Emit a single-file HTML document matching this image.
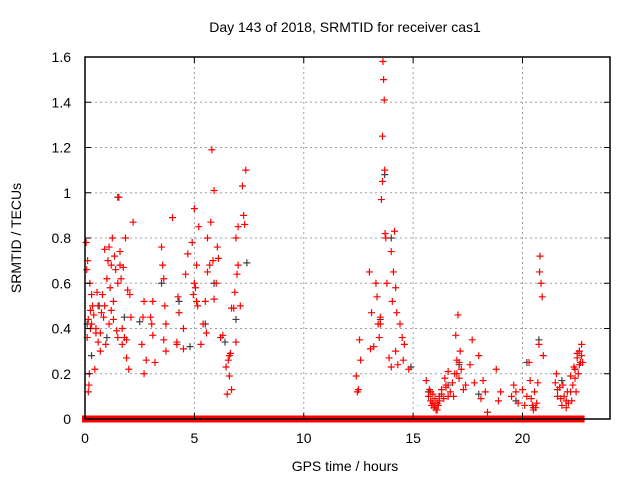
<!DOCTYPE html>
<html><head><meta charset="utf-8"><style>
html,body{margin:0;padding:0;background:#fff}
svg{display:block;font-family:"Liberation Sans",sans-serif}
</style></head><body>
<svg id="chart" width="640" height="480" viewBox="0 0 640 480" xmlns="http://www.w3.org/2000/svg">
<rect width="640" height="480" fill="#fff"/>
<text x="345" y="32" text-anchor="middle" font-size="14" fill="#000">Day 143 of 2018, SRMTID for receiver cas1</text>
<text transform="translate(21,238) rotate(-90)" text-anchor="middle" font-size="14" fill="#000">SRMTID / TECUs</text>
<text x="345" y="471" text-anchor="middle" font-size="14" fill="#000">GPS time / hours</text>
<g id="grid"></g>
<g id="zeros"></g>
<g id="black"></g>
<g id="red"></g>
<rect x="85" y="57" width="525" height="362" fill="none" stroke="#000" stroke-width="1.5"/>
<g id="ticks"></g>
</svg>
<script>
const xTicks=[0,5,10,15,20];
const yTicks=[0,0.2,0.4,0.6,0.8,1,1.2,1.4,1.6];
const yTickLabels=["0","0.2","0.4","0.6","0.8","1","1.2","1.4","1.6"];
const zeroSegments=[[0,1.5],[1.6,3.6],[3.7,5.2],[5.3,7.3],[7.35,12.8],[12.9,13.5],[13.6,14.5],[14.55,15.6],[15.7,16.2],[16.3,20.6],[20.7,22.7]];
const redX=[
0.05,0.08,0.1,0.12,0.15,0.18,0.2,0.22,0.25,0.3,
0.35,0.4,0.45,0.5,0.55,0.6,0.65,0.7,0.75,0.8,
0.85,0.9,0.95,1.0,1.05,1.1,1.15,1.2,1.25,1.3,
1.35,1.4,1.45,1.5,1.55,1.6,1.65,1.7,1.75,1.8,
1.85,1.9,1.95,2.0,2.05,2.1,2.2,0.3,0.5,0.7,
0.9,1.1,1.3,1.5,1.7,1.9,0.15,0.25,1.2,1.6,
2.6,2.65,2.7,2.8,3.0,3.05,3.1,3.2,3.5,3.55,
3.6,3.65,3.7,4.0,4.2,4.25,4.3,4.5,4.6,4.7,
3.6,3.7,2.7,3.1,4.2,4.5,
4.9,4.95,5.0,5.05,5.1,5.15,5.2,5.3,5.4,5.5,
5.55,5.6,5.7,5.75,5.8,5.85,5.9,6.0,6.05,6.1,
6.2,6.3,6.45,6.5,6.55,6.6,6.65,6.7,6.8,6.85,
6.9,6.95,7.0,7.1,7.2,7.25,7.3,7.35,5.0,5.1,
6.9,7.0,6.6,6.7,5.6,5.9,
12.4,12.45,12.5,12.55,12.6,13.0,13.05,13.1,13.2,13.3,
13.35,13.4,13.45,13.5,13.55,13.6,13.62,13.65,13.68,13.7,
13.72,13.75,13.8,13.9,14.0,14.05,14.1,14.15,14.2,14.25,
14.3,14.4,14.5,14.55,14.6,14.8,13.5,13.6,14.0,14.2,
15.6,15.7,15.75,15.8,15.85,15.9,15.95,16.0,16.05,16.1,
16.15,16.2,16.3,16.4,16.45,16.5,16.6,16.7,16.8,16.85,
16.9,16.95,17.0,17.05,17.1,17.15,17.2,17.3,17.4,17.6,
17.7,17.8,18.0,18.1,18.2,18.3,18.4,18.8,18.9,19.0,
15.8,15.9,16.0,16.1,16.2,16.3,16.5,16.6,17.0,17.1,
19.5,19.6,19.7,19.8,20.0,20.1,20.2,20.3,20.35,20.4,
20.45,20.5,20.55,20.6,20.65,20.7,20.75,20.8,20.85,20.9,
20.78,20.95,
21.5,21.55,21.6,21.7,21.8,21.9,22.0,22.05,22.1,22.2,
22.25,22.3,22.35,22.4,22.45,22.5,22.55,22.6,22.65,22.7,
21.6,21.75,21.85,22.0,22.2,22.4,22.5,22.6,22.7,22.75];
const redY=[
0.78,0.66,0.36,0.7,0.44,0.15,0.2,0.6,0.48,0.55,
0.5,0.46,0.22,0.38,0.56,0.34,0.5,0.3,0.47,0.55,
0.45,0.75,0.33,0.62,0.7,0.76,0.58,0.68,0.8,0.52,
0.72,0.66,0.39,0.6,0.98,0.74,0.62,0.4,0.67,0.36,
0.8,0.27,0.57,0.22,0.55,0.45,0.87,0.42,0.4,0.38,
0.5,0.42,0.44,0.36,0.33,0.35,0.12,0.4,0.48,0.68,
0.33,0.45,0.52,0.26,0.45,0.42,0.52,0.25,0.76,0.68,
0.62,0.5,0.3,0.89,0.34,0.54,0.47,0.4,0.64,0.73,
0.35,0.42,0.2,0.37,0.33,0.31,
0.78,0.55,0.93,0.58,0.68,0.5,0.85,0.33,0.42,0.52,
0.38,0.8,0.68,0.87,1.19,0.7,1.01,0.6,0.76,0.71,
0.36,0.37,0.23,0.11,0.26,0.19,0.29,0.13,0.49,0.56,
0.34,0.64,0.85,0.5,1.03,0.9,0.86,1.1,0.6,0.52,
0.8,0.68,0.28,0.49,0.65,0.53,
0.19,0.12,0.13,0.35,0.26,0.65,0.31,0.47,0.32,0.6,
0.54,0.42,0.36,0.45,0.97,1.25,1.58,1.5,1.41,1.1,
0.82,0.8,0.6,0.27,0.74,0.52,0.65,0.83,0.3,0.47,
0.24,0.42,0.36,0.26,0.33,0.22,0.42,1.05,0.23,0.58,
0.17,0.1,0.13,0.08,0.06,0.11,0.05,0.09,0.04,0.07,
0.06,0.1,0.13,0.09,0.18,0.14,0.21,0.12,0.16,0.1,
0.2,0.37,0.26,0.46,0.18,0.3,0.22,0.13,0.15,0.24,
0.35,0.16,0.28,0.09,0.17,0.12,0.03,0.22,0.08,0.12,
0.12,0.07,0.06,0.04,0.08,0.11,0.15,0.1,0.2,0.25,
0.1,0.15,0.12,0.07,0.13,0.06,0.1,0.25,0.17,0.09,
0.06,0.04,0.12,0.05,0.07,0.16,0.33,0.72,0.6,0.54,
0.65,0.28,
0.16,0.2,0.1,0.14,0.06,0.1,0.08,0.12,0.07,0.19,
0.08,0.15,0.23,0.18,0.12,0.27,0.2,0.3,0.25,0.33,
0.13,0.09,0.15,0.05,0.12,0.22,0.29,0.24,0.28,0.25];
const blackX=[0.1,0.3,0.6,1.0,1.5,1.8,2.5,3.5,4.3,4.8,5.5,5.9,6.4,6.9,7.4,13.5,13.7,14.0,14.9,15.7,16.0,16.6,17.1,18.0,19.7,20.2,20.5,20.75,21.8,22.4,22.6];
const blackY=[0.42,0.28,0.5,0.36,0.98,0.45,0.43,0.6,0.52,0.32,0.42,0.6,0.34,0.44,0.69,0.44,1.08,0.8,0.23,0.12,0.07,0.15,0.24,0.11,0.08,0.25,0.05,0.35,0.17,0.22,0.3];
const X0=85,X1=610,Y0=419,Y1=57,XMAX=24,YMAX=1.6;
const sx=v=>X0+(X1-X0)*v/XMAX;
const sy=v=>Y0-(Y0-Y1)*v/YMAX;
const NS="http://www.w3.org/2000/svg";
function mk(tag,attrs,parent){const e=document.createElementNS(NS,tag);for(const k in attrs)e.setAttribute(k,attrs[k]);parent.appendChild(e);return e;}
const grid=document.getElementById('grid'),ticks=document.getElementById('ticks');
xTicks.forEach((t,i)=>{const x=sx(t);
 if(t>0){const l=mk('line',{x1:x,x2:x,y1:Y1,y2:Y0,stroke:'#a0a0a0','stroke-dasharray':'2,3'},grid);
 
 }
 mk('line',{x1:x,x2:x,y1:Y0,y2:Y0-6,stroke:'#000'},ticks);
 mk('line',{x1:x,x2:x,y1:Y1,y2:Y1+6,stroke:'#000'},ticks);
 const tx=mk('text',{x:x,y:443,'text-anchor':'middle','font-size':'14',fill:'#000'},ticks);tx.textContent=String(t);
 
 });
yTicks.forEach((t,i)=>{const y=sy(t);
 if(t>0&&t<YMAX){const l=mk('line',{x1:X0,x2:X1,y1:y,y2:y,stroke:'#a0a0a0','stroke-dasharray':'2,3'},grid);
 
 }
 mk('line',{x1:X0,x2:X0+6,y1:y,y2:y,stroke:'#000'},ticks);
 mk('line',{x1:X1,x2:X1-6,y1:y,y2:y,stroke:'#000'},ticks);
 const tx=mk('text',{x:71,y:y+5,'text-anchor':'end','font-size':'14',fill:'#000'},ticks);tx.textContent=yTickLabels[i];
 
 });
function plus(g,x,y,c,name){const p=mk('path',{d:`M${x-3.5},${y}h7M${x},${y-3.5}v7`,stroke:c,'stroke-width':'1.2',fill:'none'},g);
 
 }
const zg=document.getElementById('zeros');
zeroSegments.forEach(s=>{const r=mk('rect',{x:sx(s[0])-3,y:sy(0)-3.5,width:sx(s[1])-sx(s[0])+6,height:7,fill:'#ff0000'},zg);
 
 });
const bg=document.getElementById('black');
blackX.forEach((v,i)=>plus(bg,sx(v),sy(blackY[i]),'#404040','black-point'));
const rg=document.getElementById('red');
redX.forEach((v,i)=>plus(rg,sx(v),sy(redY[i]),'#ff0000','red-point'));
</script>
</body></html>
